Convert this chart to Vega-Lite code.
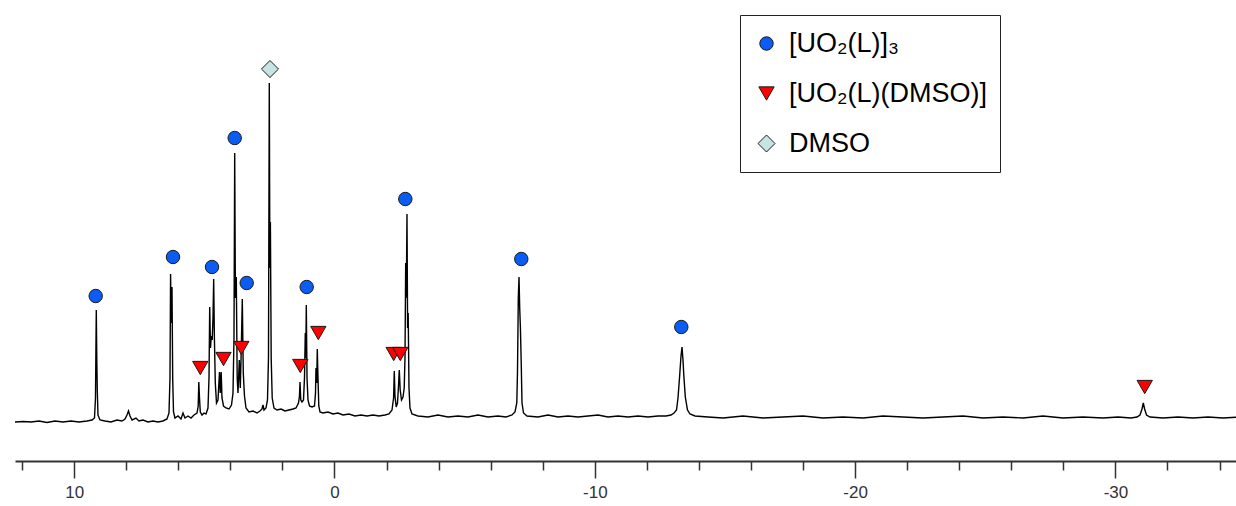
{
  "$schema": "https://vega.github.io/schema/vega-lite/v6.json",
  "width": 1224,
  "height": 461,
  "padding": {"left": 12, "top": 0, "right": 0, "bottom": 0},
  "background": "white",
  "config": {
    "view": {"stroke": null},
    "legend": {
      "orient": "none",
      "legendX": 725,
      "legendY": 15,
      "padding": 13,
      "rowPadding": 19,
      "clipHeight": 31,
      "labelFontSize": 27,
      "labelFont": "Liberation Sans, Arial, sans-serif",
      "labelColor": "black",
      "labelOffset": 9,
      "symbolStrokeColor": "#1a1a1a",
      "symbolStrokeWidth": 1,
      "symbolOpacity": 1,
      "strokeColor": "#222222",
      "fillColor": "white",
      "labelLimit": 400,
      "titleOrient": "right",
      "titleFontSize": 27,
      "titleFont": "Liberation Sans, Arial, sans-serif",
      "titlePadding": 0,
      "titleLimit": 400
    }
  },
  "datasets": {
    "spectrum": [
      {"ppm": 12.274, "v": -4}, {"ppm": 11.967, "v": -3.5}, {"ppm": 11.66, "v": -4}, {"ppm": 11.352, "v": -3},
      {"ppm": 11.045, "v": -4.5}, {"ppm": 10.738, "v": -3}, {"ppm": 10.43, "v": -4}, {"ppm": 10.123, "v": -3},
      {"ppm": 9.816, "v": -4}, {"ppm": 9.508, "v": -3}, {"ppm": 9.316, "v": -2}, {"ppm": 9.22, "v": 0},
      {"ppm": 9.182, "v": 20}, {"ppm": 9.163, "v": 75}, {"ppm": 9.151, "v": 108}, {"ppm": 9.132, "v": 60},
      {"ppm": 9.113, "v": 28}, {"ppm": 9.086, "v": 3}, {"ppm": 9.009, "v": -2}, {"ppm": 8.817, "v": -3},
      {"ppm": 8.586, "v": -4}, {"ppm": 8.356, "v": -2}, {"ppm": 8.164, "v": -3}, {"ppm": 8.048, "v": -1},
      {"ppm": 7.972, "v": 3}, {"ppm": 7.914, "v": 7}, {"ppm": 7.856, "v": 2}, {"ppm": 7.779, "v": -2},
      {"ppm": 7.626, "v": 0}, {"ppm": 7.511, "v": -3}, {"ppm": 7.357, "v": -2}, {"ppm": 7.165, "v": -4},
      {"ppm": 6.973, "v": -3}, {"ppm": 6.781, "v": -4}, {"ppm": 6.589, "v": -3}, {"ppm": 6.435, "v": -1},
      {"ppm": 6.358, "v": 5}, {"ppm": 6.32, "v": 40}, {"ppm": 6.297, "v": 144}, {"ppm": 6.274, "v": 95},
      {"ppm": 6.243, "v": 131}, {"ppm": 6.216, "v": 40}, {"ppm": 6.185, "v": 6}, {"ppm": 6.128, "v": 0},
      {"ppm": 6.012, "v": 2}, {"ppm": 5.897, "v": -1}, {"ppm": 5.82, "v": 5}, {"ppm": 5.743, "v": 0},
      {"ppm": 5.628, "v": 2}, {"ppm": 5.513, "v": 0}, {"ppm": 5.398, "v": 3}, {"ppm": 5.282, "v": 5},
      {"ppm": 5.236, "v": 12}, {"ppm": 5.213, "v": 36}, {"ppm": 5.186, "v": 20}, {"ppm": 5.156, "v": 6},
      {"ppm": 5.09, "v": 3}, {"ppm": 5.013, "v": 5}, {"ppm": 4.937, "v": 4}, {"ppm": 4.86, "v": 10},
      {"ppm": 4.821, "v": 40}, {"ppm": 4.794, "v": 111}, {"ppm": 4.764, "v": 70}, {"ppm": 4.733, "v": 82},
      {"ppm": 4.698, "v": 78}, {"ppm": 4.668, "v": 100}, {"ppm": 4.641, "v": 139}, {"ppm": 4.614, "v": 80},
      {"ppm": 4.579, "v": 35}, {"ppm": 4.533, "v": 15}, {"ppm": 4.476, "v": 18}, {"ppm": 4.418, "v": 46},
      {"ppm": 4.387, "v": 25}, {"ppm": 4.353, "v": 46}, {"ppm": 4.322, "v": 20}, {"ppm": 4.264, "v": 12},
      {"ppm": 4.168, "v": 10}, {"ppm": 4.053, "v": 9}, {"ppm": 3.957, "v": 13}, {"ppm": 3.899, "v": 25},
      {"ppm": 3.861, "v": 80}, {"ppm": 3.834, "v": 265}, {"ppm": 3.807, "v": 120}, {"ppm": 3.773, "v": 141},
      {"ppm": 3.738, "v": 40}, {"ppm": 3.707, "v": 25}, {"ppm": 3.657, "v": 58}, {"ppm": 3.619, "v": 30},
      {"ppm": 3.58, "v": 70}, {"ppm": 3.542, "v": 119}, {"ppm": 3.504, "v": 45}, {"ppm": 3.458, "v": 22},
      {"ppm": 3.4, "v": 10}, {"ppm": 3.285, "v": 6}, {"ppm": 3.131, "v": 7}, {"ppm": 2.977, "v": 5},
      {"ppm": 2.862, "v": 7}, {"ppm": 2.785, "v": 9}, {"ppm": 2.747, "v": 13}, {"ppm": 2.708, "v": 8},
      {"ppm": 2.632, "v": 10}, {"ppm": 2.574, "v": 18}, {"ppm": 2.536, "v": 60}, {"ppm": 2.505, "v": 335},
      {"ppm": 2.482, "v": 150}, {"ppm": 2.463, "v": 196}, {"ppm": 2.432, "v": 60}, {"ppm": 2.393, "v": 20},
      {"ppm": 2.324, "v": 10}, {"ppm": 2.209, "v": 8}, {"ppm": 2.055, "v": 9}, {"ppm": 1.902, "v": 7},
      {"ppm": 1.748, "v": 8}, {"ppm": 1.594, "v": 9}, {"ppm": 1.479, "v": 10}, {"ppm": 1.383, "v": 15},
      {"ppm": 1.345, "v": 22}, {"ppm": 1.325, "v": 36}, {"ppm": 1.295, "v": 18}, {"ppm": 1.249, "v": 16},
      {"ppm": 1.191, "v": 18}, {"ppm": 1.153, "v": 40}, {"ppm": 1.122, "v": 85}, {"ppm": 1.103, "v": 60},
      {"ppm": 1.083, "v": 113}, {"ppm": 1.056, "v": 40}, {"ppm": 1.018, "v": 18}, {"ppm": 0.96, "v": 12},
      {"ppm": 0.864, "v": 11}, {"ppm": 0.768, "v": 12}, {"ppm": 0.73, "v": 25}, {"ppm": 0.711, "v": 50},
      {"ppm": 0.684, "v": 35}, {"ppm": 0.661, "v": 69}, {"ppm": 0.634, "v": 40}, {"ppm": 0.603, "v": 12},
      {"ppm": 0.557, "v": 6}, {"ppm": 0.442, "v": 5}, {"ppm": 0.25, "v": 6}, {"ppm": 0.058, "v": 4},
      {"ppm": -0.134, "v": 5}, {"ppm": -0.327, "v": 3}, {"ppm": -0.557, "v": 4}, {"ppm": -0.788, "v": 2},
      {"ppm": -1.018, "v": 3}, {"ppm": -1.249, "v": 2}, {"ppm": -1.479, "v": 3}, {"ppm": -1.71, "v": 2},
      {"ppm": -1.94, "v": 3}, {"ppm": -2.094, "v": 4}, {"ppm": -2.209, "v": 8}, {"ppm": -2.27, "v": 20},
      {"ppm": -2.297, "v": 47}, {"ppm": -2.324, "v": 22}, {"ppm": -2.37, "v": 11}, {"ppm": -2.42, "v": 15},
      {"ppm": -2.455, "v": 30}, {"ppm": -2.489, "v": 48}, {"ppm": -2.524, "v": 28}, {"ppm": -2.574, "v": 18},
      {"ppm": -2.632, "v": 21}, {"ppm": -2.678, "v": 30}, {"ppm": -2.708, "v": 60}, {"ppm": -2.735, "v": 155},
      {"ppm": -2.758, "v": 120}, {"ppm": -2.785, "v": 204}, {"ppm": -2.808, "v": 90}, {"ppm": -2.831, "v": 105},
      {"ppm": -2.862, "v": 30}, {"ppm": -2.9, "v": 10}, {"ppm": -2.977, "v": 4}, {"ppm": -3.208, "v": 2},
      {"ppm": -3.592, "v": 1}, {"ppm": -3.976, "v": 3}, {"ppm": -4.36, "v": 1}, {"ppm": -4.744, "v": 2},
      {"ppm": -5.129, "v": 1}, {"ppm": -5.513, "v": 3}, {"ppm": -5.897, "v": 1}, {"ppm": -6.281, "v": 2},
      {"ppm": -6.589, "v": 1}, {"ppm": -6.819, "v": 3}, {"ppm": -6.934, "v": 6}, {"ppm": -7.003, "v": 15},
      {"ppm": -7.03, "v": 46}, {"ppm": -7.061, "v": 120}, {"ppm": -7.088, "v": 141}, {"ppm": -7.115, "v": 110},
      {"ppm": -7.142, "v": 90}, {"ppm": -7.173, "v": 56}, {"ppm": -7.203, "v": 15}, {"ppm": -7.261, "v": 5},
      {"ppm": -7.395, "v": 2}, {"ppm": -7.818, "v": 1}, {"ppm": -8.202, "v": 3}, {"ppm": -8.586, "v": 1},
      {"ppm": -8.97, "v": 2}, {"ppm": -9.355, "v": 1}, {"ppm": -9.739, "v": 2}, {"ppm": -10.123, "v": 3},
      {"ppm": -10.507, "v": 1}, {"ppm": -10.891, "v": 2}, {"ppm": -11.275, "v": 1}, {"ppm": -11.66, "v": 2},
      {"ppm": -12.044, "v": 1}, {"ppm": -12.428, "v": 2}, {"ppm": -12.735, "v": 2}, {"ppm": -12.927, "v": 3},
      {"ppm": -13.043, "v": 5}, {"ppm": -13.139, "v": 8}, {"ppm": -13.196, "v": 20}, {"ppm": -13.262, "v": 43},
      {"ppm": -13.312, "v": 62}, {"ppm": -13.35, "v": 71}, {"ppm": -13.388, "v": 58}, {"ppm": -13.419, "v": 43},
      {"ppm": -13.477, "v": 21}, {"ppm": -13.561, "v": 8}, {"ppm": -13.657, "v": 4}, {"ppm": -13.85, "v": 2},
      {"ppm": -14.349, "v": 1}, {"ppm": -14.925, "v": 0}, {"ppm": -15.693, "v": 2}, {"ppm": -16.462, "v": 0},
      {"ppm": -17.23, "v": 1}, {"ppm": -17.998, "v": 2}, {"ppm": -18.767, "v": 0}, {"ppm": -19.535, "v": 1},
      {"ppm": -20.304, "v": 0}, {"ppm": -21.072, "v": 2}, {"ppm": -21.84, "v": 1}, {"ppm": -22.609, "v": 0},
      {"ppm": -23.377, "v": 1}, {"ppm": -24.145, "v": 2}, {"ppm": -24.914, "v": 0}, {"ppm": -25.682, "v": 1},
      {"ppm": -26.45, "v": 0}, {"ppm": -27.219, "v": 2}, {"ppm": -27.987, "v": 0}, {"ppm": -28.755, "v": 1},
      {"ppm": -29.524, "v": 0}, {"ppm": -30.1, "v": 1}, {"ppm": -30.599, "v": 0}, {"ppm": -30.83, "v": 1},
      {"ppm": -30.945, "v": 3}, {"ppm": -31.022, "v": 9}, {"ppm": -31.072, "v": 15}, {"ppm": -31.122, "v": 9},
      {"ppm": -31.195, "v": 3}, {"ppm": -31.329, "v": 1}, {"ppm": -31.829, "v": 0}, {"ppm": -32.405, "v": 1},
      {"ppm": -32.981, "v": 0}, {"ppm": -33.557, "v": 1}, {"ppm": -34.134, "v": 0}, {"ppm": -34.748, "v": 1}
    ],
    "peaks": [
      {"ppm": 9.174, "v": 122, "species": "[UO₂(L)]₃"},
      {"ppm": 6.204, "v": 161, "species": "[UO₂(L)]₃"},
      {"ppm": 5.156, "v": 50, "species": "[UO₂(L)(DMSO)]"},
      {"ppm": 4.706, "v": 151, "species": "[UO₂(L)]₃"},
      {"ppm": 4.264, "v": 59, "species": "[UO₂(L)(DMSO)]"},
      {"ppm": 3.834, "v": 280, "species": "[UO₂(L)]₃"},
      {"ppm": 3.58, "v": 70, "species": "[UO₂(L)(DMSO)]"},
      {"ppm": 3.373, "v": 135, "species": "[UO₂(L)]₃"},
      {"ppm": 2.478, "v": 349, "species": "DMSO"},
      {"ppm": 1.314, "v": 52, "species": "[UO₂(L)(DMSO)]"},
      {"ppm": 1.068, "v": 131, "species": "[UO₂(L)]₃"},
      {"ppm": 0.622, "v": 85, "species": "[UO₂(L)(DMSO)]"},
      {"ppm": -2.274, "v": 64, "species": "[UO₂(L)(DMSO)]"},
      {"ppm": -2.528, "v": 64, "species": "[UO₂(L)(DMSO)]"},
      {"ppm": -2.72, "v": 219, "species": "[UO₂(L)]₃"},
      {"ppm": -7.176, "v": 159, "species": "[UO₂(L)]₃"},
      {"ppm": -13.323, "v": 91, "species": "[UO₂(L)]₃"},
      {"ppm": -31.126, "v": 31, "species": "[UO₂(L)(DMSO)]"}
    ]
  },
  "encoding": {
    "x": {
      "field": "ppm",
      "type": "quantitative",
      "scale": {"domain": [12.274, -34.748], "nice": false, "zero": false},
      "axis": {
        "title": null,
        "grid": false,
        "values": [12, 10, 8, 6, 4, 2, 0, -2, -4, -6, -8, -10, -12, -14, -16, -18, -20, -22, -24, -26, -28, -30, -32, -34],
        "labelExpr": "datum.value % 10 === 0 ? '' + datum.value : ''",
        "tickSize": {"condition": {"test": "datum.value % 10 === 0", "value": 17}, "value": 9},
        "tickColor": "#333333",
        "tickWidth": 1.5,
        "domainColor": "#333333",
        "domainWidth": 2,
        "labelFont": "Liberation Sans Narrow, Liberation Sans, Arial, sans-serif",
        "labelFontSize": 17,
        "labelColor": "#333333",
        "labelPadding": 6,
        "labelFlush": false,
        "labelOverlap": false
      }
    },
    "y": {
      "field": "v",
      "type": "quantitative",
      "scale": {"domain": [-43, 418], "nice": false, "zero": false},
      "axis": null
    }
  },
  "layer": [
    {
      "data": {"name": "spectrum"},
      "mark": {"type": "line", "color": "black", "strokeWidth": 1.4, "interpolate": "linear"}
    },
    {
      "data": {"name": "peaks"},
      "mark": {"type": "point", "filled": true, "stroke": "#1a1a1a", "strokeWidth": 1, "opacity": 1},
      "encoding": {
        "color": {
          "field": "species",
          "type": "nominal",
          "scale": {"domain": ["[UO₂(L)]₃", "[UO₂(L)(DMSO)]", "DMSO"], "range": ["#0b5cf2", "#ff0000", "#c6e4e4"]},
          "legend": {
            "title": "\u00a0\u00a0\u00a0\u00a0",
            "encode": {
              "symbols": {"update": {"stroke": {"value": "#1a1a1a"}, "strokeWidth": {"value": 1}, "opacity": {"value": 1}}}
            }
          }
        },
        "shape": {
          "field": "species",
          "type": "nominal",
          "scale": {"domain": ["[UO₂(L)]₃", "[UO₂(L)(DMSO)]", "DMSO"], "range": ["circle", "triangle-down", "diamond"]},
          "legend": {"title": "\u00a0\u00a0\u00a0\u00a0"}
        },
        "size": {
          "field": "species",
          "type": "nominal",
          "scale": {"domain": ["[UO₂(L)]₃", "[UO₂(L)(DMSO)]", "DMSO"], "range": [180, 290, 270]},
          "legend": {"title": "\u00a0\u00a0\u00a0\u00a0"}
        }
      }
    }
  ]
}
